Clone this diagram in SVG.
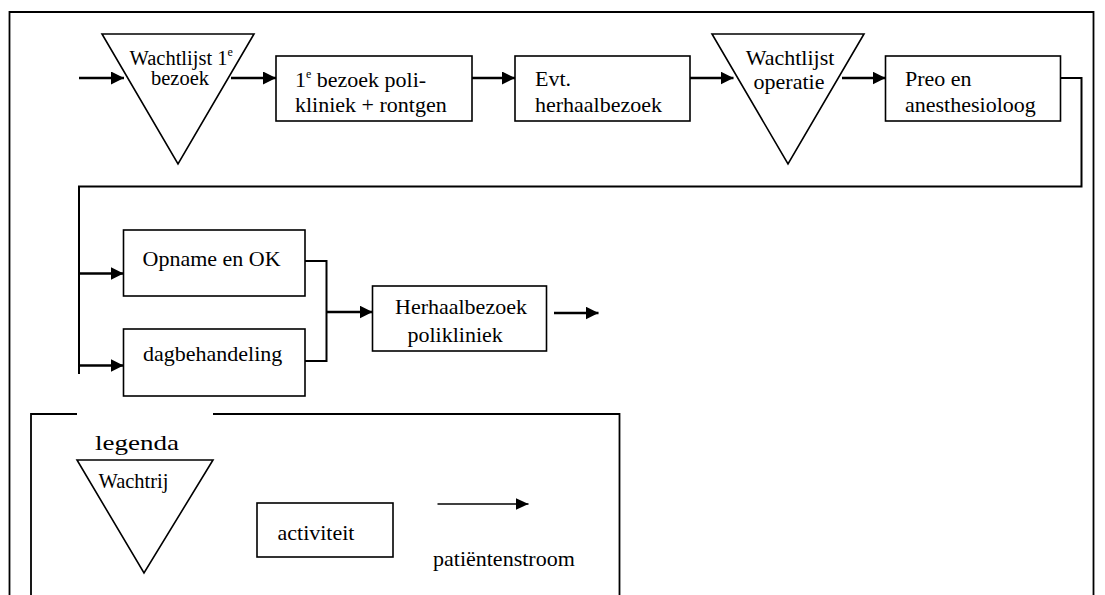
<svg xmlns="http://www.w3.org/2000/svg" width="1105" height="595" viewBox="0 0 1105 595">
  <style>
    .frame { fill: none; stroke: #000; stroke-width: 1.8; }
    .node { fill: #fff; stroke: #000; stroke-width: 1.6; }
    .flow { fill: none; stroke: #000; stroke-width: 2.6; }
    .link { fill: none; stroke: #000; stroke-width: 2; }
    .thin { fill: none; stroke: #000; stroke-width: 1.6; }
    text { font-family: "Liberation Serif", "Times New Roman", "DejaVu Serif", serif; font-size: 22px; fill: #000; }
    .sm { font-size: 20.5px; }
    .sup { font-size: 12px; }
  </style>
  <defs>
    <marker id="head" markerUnits="userSpaceOnUse" markerWidth="14" markerHeight="14" refX="13" refY="6.5" orient="auto">
      <path d="M0,0 L13,6.5 L0,13 z" fill="#000"/>
    </marker>
    <marker id="headThin" markerUnits="userSpaceOnUse" markerWidth="14" markerHeight="14" refX="13" refY="6" orient="auto">
      <path d="M0,0 L13,6 L0,12 z" fill="#000"/>
    </marker>
  </defs>

  <rect width="1105" height="595" fill="#fff"/>

  <!-- outer frame (bottom runs past the page) -->
  <path class="frame" d="M9.5,595 V12 H1093.5 V595"/>

  <!-- connectors -->
  <g id="connectors">
    <line class="flow" x1="79" y1="78" x2="124" y2="78" marker-end="url(#head)"/>
    <line class="flow" x1="231" y1="78" x2="276" y2="78" marker-end="url(#head)"/>
    <line class="flow" x1="472" y1="78" x2="515" y2="78" marker-end="url(#head)"/>
    <line class="flow" x1="690" y1="78" x2="733.5" y2="78" marker-end="url(#head)"/>
    <line class="flow" x1="842" y1="78" x2="885.5" y2="78" marker-end="url(#head)"/>
    <polyline class="link" points="1060.5,78 1081.5,78 1081.5,186.5 79,186.5 79,374"/>
    <line class="flow" x1="79" y1="273.5" x2="123.5" y2="273.5" marker-end="url(#head)"/>
    <line class="flow" x1="79" y1="365.5" x2="123.5" y2="365.5" marker-end="url(#head)"/>
    <polyline class="link" points="305,261 326.5,261 326.5,361 305,361"/>
    <line class="flow" x1="326.5" y1="312" x2="372.5" y2="312" marker-end="url(#head)"/>
    <line class="flow" x1="554" y1="313" x2="598.5" y2="313" marker-end="url(#head)"/>
  </g>

  <!-- waiting list before first visit -->
  <g id="wachtlijst-bezoek">
    <polygon class="node" points="102,34 254,34 178,164"/>
    <text class="sm" x="129.5" y="65">Wachtlijst 1<tspan class="sup" font-size="11" dy="-9">e</tspan></text>
    <text class="sm" x="151" y="85">bezoek</text>
  </g>

  <g id="eerste-bezoek">
    <rect class="node" x="276" y="56" width="196" height="65"/>
    <text x="295" y="87">1<tspan class="sup" dy="-9.5">e</tspan><tspan dy="9.5"> bezoek poli-</tspan></text>
    <text x="295" y="112">kliniek + rontgen</text>
  </g>

  <g id="herhaalbezoek-evt">
    <rect class="node" x="515" y="56" width="175" height="65"/>
    <text x="535" y="86">Evt.</text>
    <text x="535" y="112">herhaalbezoek</text>
  </g>

  <g id="wachtlijst-operatie">
    <polygon class="node" points="712,34 864,34 788,164"/>
    <text x="790" y="65" text-anchor="middle">Wachtlijst</text>
    <text x="789" y="88.5" text-anchor="middle">operatie</text>
  </g>

  <g id="preo">
    <rect class="node" x="885.5" y="56" width="175" height="65"/>
    <text x="905" y="86">Preo en</text>
    <text x="905" y="112">anesthesioloog</text>
  </g>

  <g id="opname">
    <rect class="node" x="123.5" y="230" width="181.5" height="66"/>
    <text x="142.5" y="266">Opname en OK</text>
  </g>

  <g id="dagbehandeling">
    <rect class="node" x="123.5" y="329" width="181.5" height="67"/>
    <text x="143" y="361">dagbehandeling</text>
  </g>

  <g id="herhaalbezoek">
    <rect class="node" x="372.5" y="286" width="174" height="65"/>
    <text x="395" y="313.5">Herhaalbezoek</text>
    <text x="407.5" y="342">polikliniek</text>
  </g>

  <!-- legend -->
  <g id="legenda">
    <path class="frame" d="M77,414 H31 V595 M213,414 H619.5 V595"/>
    <text x="95" y="450" font-size="25" textLength="84" lengthAdjust="spacingAndGlyphs">legenda</text>
    <polygon class="node" points="77,460 213,460 144,573"/>
    <text x="98.5" y="488" font-size="18" textLength="70" lengthAdjust="spacingAndGlyphs">Wachtrij</text>
    <rect class="node" x="257" y="503" width="136" height="54"/>
    <text x="277.5" y="540">activiteit</text>
    <line class="thin" x1="437.5" y1="504" x2="528.5" y2="504" marker-end="url(#headThin)"/>
    <text x="433" y="566">patiëntenstroom</text>
  </g>
</svg>
